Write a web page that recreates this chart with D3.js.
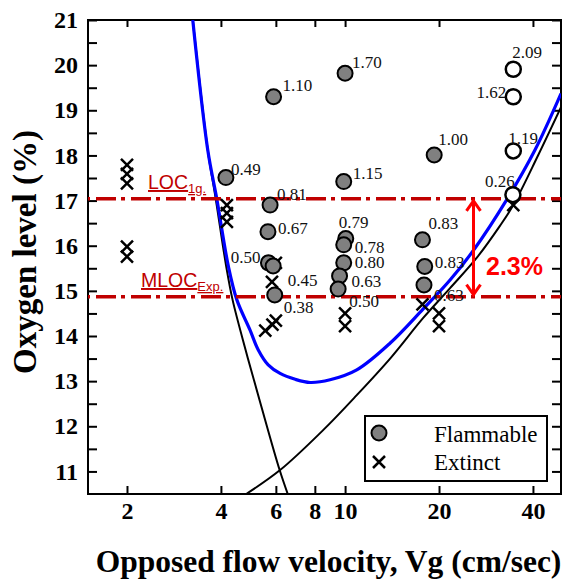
<!DOCTYPE html>
<html>
<head>
<meta charset="utf-8">
<script src="https://d3js.org/d3.v7.min.js"></script>
<style>
  body { margin: 0; background: #fff; }
  text { font-family: "Liberation Serif", "Times New Roman", serif; }
</style>
</head>
<body>
<svg id="chart" width="573" height="579"></svg>
<script>
// ---- data ----
const xTicks = [2, 4, 6, 8, 10, 20, 40];
const yTicks = [11, 12, 13, 14, 15, 16, 17, 18, 19, 20, 21];

// flammable (grey filled) : [velocity, O2 %, label]
const flammable = [
  [5.9, 19.30, "1.10"], [4.15, 17.51, "0.49"], [10.0, 19.82, "1.70"],
  [19.3, 18.01, "1.00"], [9.9, 17.42, "1.15"], [5.75, 16.90, "0.81"],
  [5.66, 16.31, "0.67"], [5.68, 15.62, "0.50"], [5.88, 15.55, ""],
  [5.95, 14.91, "0.45"], [10.05, 16.16, "0.79"], [9.9, 16.02, "0.78"],
  [9.9, 15.62, "0.80"], [9.6, 15.33, "0.63"], [9.5, 15.04, "0.50"],
  [17.7, 16.13, "0.83"], [18.0, 15.54, "0.83"], [17.9, 15.13, "0.63"]
];
// open circles
const openPts = [
  [34.6, 19.91, "2.09"], [34.6, 19.30, "1.62"], [34.6, 18.10, "1.19"], [34.5, 17.13, "0.26"]
];
// extinct (x marks)
const extinct = [
  [2, 17.79, ""], [2, 17.59, ""], [2, 17.38, ""], [2, 15.98, ""], [2, 15.76, ""],
  [4.18, 16.90, ""], [4.18, 16.72, ""], [4.18, 16.53, ""],
  [6.0, 15.62, ""], [5.83, 15.20, ""], [5.55, 14.12, ""], [5.85, 14.25, ""], [6.0, 14.34, "0.38"],
  [10, 14.50, ""], [10, 14.22, ""],
  [17.7, 14.70, ""], [20, 14.50, ""], [20, 14.22, ""],
  [34.6, 16.90, ""]
];

// curves
const blueCurve = [[3.25,21],[3.63,18.12],[3.88,17.04],[4.23,15.53],[4.5,14.8],[4.96,14.13],
  [5.27,13.69],[5.67,13.36],[6.19,13.17],[6.92,13.04],[7.73,12.97],[8.95,13.03],[10.9,13.25],
  [13.93,13.84],[17.8,14.6],[21.7,15.24],[25.8,15.9],[32.9,17.01],[40.6,18.12],[49.2,19.37]];
const blackLeft = [[3.25,21],[3.63,18.12],[3.85,17.04],[4.16,15.54],[4.36,14.8],[4.8,13.69],
  [5.36,12.5],[6.17,11.03],[6.55,10.5]];
const blackRight = [[4.82,10.5],[6.19,11.03],[8.52,11.92],[10.9,12.69],[13.94,13.5],[17.8,14.4],
  [21.7,15.06],[26.4,15.73],[31.35,16.44],[34.6,16.9],[41.6,18.01],[49.2,19.07]];

const locLevel = 17.04;
const mlocLevel = 14.87;

// label offsets (layout only), same order as the series
const flamNudge = [[9,-6],[5,-3],[7,-5],[4,-10],[9,-3],[7,-5],[10,2],[-8,0,"end"],[0,0],
  [13,-9],[-7,-10],[11,8],[11,5],[12,11],[11,18],[6,-11],[10,2],[10,16]];
const openNudge = [[-1,-11],[-7,1,"end"],[-5,-7],[-28,-8]];
const extNudge = {12: [8,-8]};

// ---- layout ----
const svg = d3.select("#chart");
const L = 88, R = 561, T = 20, B = 494;
const x = d3.scaleLog().domain([1.5, 49.2]).range([L, R]);
const y = d3.scaleLinear().domain([10.5, 21]).range([B, T]);
const yMinor = d3.range(11, 21.01, 0.5);
const serif = "'Liberation Serif', 'Times New Roman', serif";
const sans = "'Liberation Sans', Arial, sans-serif";

// axes (ticks inward)
svg.append("g").attr("transform", `translate(0,${B})`)
  .call(d3.axisBottom(x).tickValues(xTicks).tickFormat(d => d).tickSize(-8).tickPadding(8))
  .call(g => g.select(".domain").remove());
svg.append("g").attr("transform", `translate(0,${T})`)
  .call(d3.axisTop(x).tickValues(xTicks).tickFormat("").tickSize(-7))
  .call(g => g.select(".domain").remove());
svg.append("g").attr("transform", `translate(${L},0)`)
  .call(d3.axisLeft(y).tickValues(yMinor).tickFormat(d => yTicks.includes(d) ? d : "").tickSize(-9).tickPadding(10))
  .call(g => g.select(".domain").remove());
svg.append("g").attr("transform", `translate(${R},0)`)
  .call(d3.axisRight(y).tickValues(yMinor).tickFormat("").tickSize(-9))
  .call(g => g.select(".domain").remove());

svg.selectAll(".tick line").attr("stroke", "#000").attr("stroke-width", 2);
svg.selectAll(".tick text").attr("fill", "#000")
  .style("font-family", serif).style("font-weight", "bold").style("font-size", "24px");

svg.append("rect").attr("x", L).attr("y", T).attr("width", R - L).attr("height", B - T)
  .attr("fill", "none").attr("stroke", "#000").attr("stroke-width", 2);

// axis titles
svg.append("text").attr("x", (L + R) / 2 + 4).attr("y", 572).attr("text-anchor", "middle")
  .style("font-family", serif).style("font-weight", "bold").style("font-size", "31.5px")
  .text("Opposed flow velocity, Vg (cm/sec)");
svg.append("text").attr("transform", "translate(36,252) rotate(-90)").attr("text-anchor", "middle")
  .style("font-family", serif).style("font-weight", "bold").style("font-size", "33px")
  .text("Oxygen level (%)");

// clip
svg.append("clipPath").attr("id", "clip").append("rect")
  .attr("x", L).attr("y", T).attr("width", R - L).attr("height", B - T);
const plot = svg.append("g").attr("clip-path", "url(#clip)");

const line = d3.line().x(d => x(d[0])).y(d => y(d[1])).curve(d3.curveCatmullRom.alpha(0.5));
plot.append("path").datum(blackLeft).attr("d", line).attr("fill", "none").attr("stroke", "#000").attr("stroke-width", 2);
plot.append("path").datum(blackRight).attr("d", line).attr("fill", "none").attr("stroke", "#000").attr("stroke-width", 2);
plot.append("path").datum(blueCurve).attr("d", line).attr("fill", "none").attr("stroke", "#0000ff").attr("stroke-width", 3.2);

// LOC / MLOC lines
const red = "#c00000";
[locLevel, mlocLevel].forEach(v => {
  plot.append("line").attr("x1", L).attr("x2", R).attr("y1", y(v)).attr("y2", y(v))
    .attr("stroke", red).attr("stroke-width", 3.5).attr("stroke-dasharray", "20,5,4,6")
    .attr("stroke-dashoffset", -8);
});

function subLabel(px, py, main, sub) {
  const t = svg.append("text").attr("x", px).attr("y", py).attr("fill", red)
    .style("font-family", sans).style("font-size", "19.5px")
    .style("text-decoration", "underline");
  t.append("tspan").text(main);
  t.append("tspan").attr("dy", 4).style("font-size", "13px").text(sub);
}
subLabel(148, 189, "LOC", "1g.");
subLabel(141, 287, "MLOC", "Exp.");

// 2.3% arrow
const ax = 473.5, bright = "#ff0000";
const ya = y(locLevel), yb = y(mlocLevel);
svg.append("line").attr("x1", ax).attr("x2", ax).attr("y1", ya + 2).attr("y2", yb - 2)
  .attr("stroke", bright).attr("stroke-width", 3);
svg.append("path").attr("d", `M${ax - 7},${ya + 12}L${ax},${ya + 2}L${ax + 7},${ya + 12}`)
  .attr("fill", "none").attr("stroke", bright).attr("stroke-width", 3);
svg.append("path").attr("d", `M${ax - 7},${yb - 12}L${ax},${yb - 2}L${ax + 7},${yb - 12}`)
  .attr("fill", "none").attr("stroke", bright).attr("stroke-width", 3);
svg.append("text").attr("x", 486).attr("y", 275).attr("fill", bright)
  .style("font-family", sans).style("font-weight", "bold")
  .style("font-size", "25px").text("2.3%");

// points
const xMark = "M-6,-6L6,6M-6,6L6,-6";
svg.append("g").selectAll("path").data(extinct).join("path")
  .attr("transform", d => `translate(${x(d[0])},${y(d[1])})`).attr("d", xMark)
  .attr("stroke", "#000").attr("stroke-width", 2.5).attr("fill", "none");
svg.append("g").selectAll("circle").data(flammable).join("circle")
  .attr("cx", d => x(d[0])).attr("cy", d => y(d[1])).attr("r", 7.5)
  .attr("fill", "#808080").attr("stroke", "#000").attr("stroke-width", 2);
svg.append("g").selectAll("circle").data(openPts).join("circle")
  .attr("cx", d => x(d[0])).attr("cy", d => y(d[1])).attr("r", 7.5)
  .attr("fill", "#fff").attr("stroke", "#000").attr("stroke-width", 2.5);

function labels(data, nudge) {
  svg.append("g").selectAll("text").data(data.map((d, i) => [d, nudge[i]]).filter(p => p[0][2] && p[1]))
    .join("text")
    .attr("x", p => x(p[0][0]) + p[1][0]).attr("y", p => y(p[0][1]) + p[1][1])
    .attr("text-anchor", p => p[1][2] || "start")
    .attr("fill", "#111").style("font-family", serif).style("font-size", "17px").text(p => p[0][2]);
}
labels(flammable, flamNudge);
labels(openPts, openNudge);
labels(extinct, extinct.map((d, i) => extNudge[i]));

// legend
const lg = svg.append("g");
lg.append("rect").attr("x", 365).attr("y", 416).attr("width", 182).attr("height", 65)
  .attr("fill", "#fff").attr("stroke", "#000").attr("stroke-width", 2);
lg.append("circle").attr("cx", 379).attr("cy", 433).attr("r", 7.5)
  .attr("fill", "#808080").attr("stroke", "#000").attr("stroke-width", 2);
lg.append("path").attr("transform", "translate(379,462)").attr("d", xMark)
  .attr("stroke", "#000").attr("stroke-width", 2.5);
lg.append("text").attr("x", 434).attr("y", 442).style("font-family", serif).style("font-size", "23px").text("Flammable");
lg.append("text").attr("x", 434).attr("y", 470).style("font-family", serif).style("font-size", "23px").text("Extinct");
</script>
</body>
</html>
